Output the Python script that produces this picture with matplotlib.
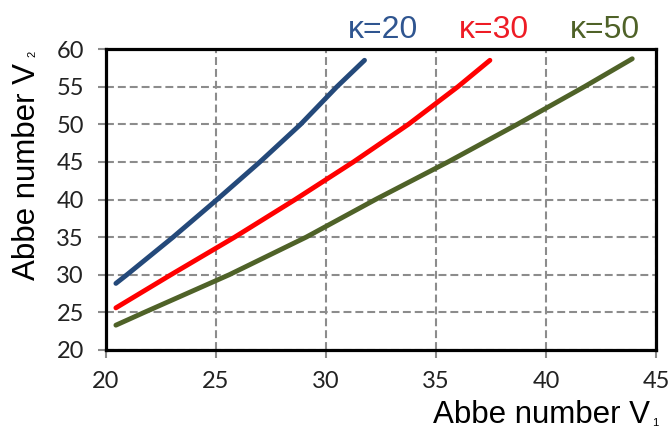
import matplotlib
matplotlib.use('Agg')
import matplotlib.pyplot as plt

# curve data (V1, V2)
k20_v1 = [20.45, 20.95, 23.05, 25.05, 27.0, 28.85, 30.5, 31.75]
k20_v2 = [28.85, 30.0, 35.0, 40.0, 45.0, 50.0, 55.0, 58.5]

k30_v1 = [20.45, 22.95, 25.85, 28.6, 31.25, 33.75, 36.0, 37.45]
k30_v2 = [25.6, 30.0, 35.0, 40.0, 45.0, 50.0, 55.0, 58.5]

k50_v1 = [20.45, 21.74, 25.6, 29.1, 32.25, 35.55, 38.7, 41.75, 43.92]
k50_v2 = [23.3, 25.0, 30.0, 35.0, 40.0, 45.0, 50.0, 55.0, 58.7]

labels = ["\u03ba=20", "\u03ba=30", "\u03ba=50"]
colors = ["#24497A", "#FF0000", "#4F6228"]
text_colors = ["#2F5590", "#EE1C25", "#4F6228"]
label_x = [32.6, 37.65, 42.7]

xticks = [20, 25, 30, 35, 40, 45]
yticks = [20, 25, 30, 35, 40, 45, 50, 55, 60]

W, H = 670, 430
fig = plt.figure(figsize=(W / 100, H / 100), dpi=100)
ax = fig.add_axes([106 / W, 1 - 350 / H, (656 - 106) / W, (350 - 49) / H])

series = [(k20_v1, k20_v2), (k30_v1, k30_v2), (k50_v1, k50_v2)]
for (x, y), c in zip(series, colors):
    ax.plot(x, y, color=c, linewidth=3.5, solid_capstyle='round',
            solid_joinstyle='round', zorder=3)

ax.set_xlim(20, 45)
ax.set_ylim(20, 60)
ax.set_xticks(xticks)
ax.set_yticks(yticks)
ax.grid(True, color='#8C8C8C', linestyle=(0, (3.8, 1.9)), linewidth=1.5)
for s in ax.spines.values():
    s.set_linewidth(2.3)
    s.set_color('black')
ax.tick_params(direction='out', length=6, width=1.5, color='#8C8C8C',
               labelsize=17)
ax.tick_params(axis='y', pad=10)
ax.tick_params(axis='x', pad=9)
for lab in ax.get_xticklabels() + ax.get_yticklabels():
    lab.set_family(['Lato', 'DejaVu Sans'])
    lab.set_color('#222222')

for txt, c, xl in zip(labels, text_colors, label_x):
    ax.text(xl, 61.5, txt, color=c, fontsize=23, ha='center', va='baseline',
            family=['Liberation Sans', 'DejaVu Sans'], clip_on=False)

lab_font = ['Liberation Sans', 'DejaVu Sans']
# x label with small subscript
fig.text(650 / W, 7 / H, "Abbe number V", ha='right', va='baseline',
         fontsize=22.5, family=lab_font)
fig.text(652 / W, 4 / H, "1", ha='left', va='baseline',
         fontsize=8, family=lab_font)
# y label with small subscript
fig.text(35 / W, 1 - 280 / H, "Abbe number V", ha='left', va='baseline',
         rotation=90, rotation_mode='anchor', fontsize=22.5, family=lab_font)
fig.text(35 / W, 1 - 57 / H, "2", ha='left', va='baseline',
         rotation=90, rotation_mode='anchor', fontsize=8, family=lab_font)

fig.savefig('out.png', dpi=100, facecolor='white')
